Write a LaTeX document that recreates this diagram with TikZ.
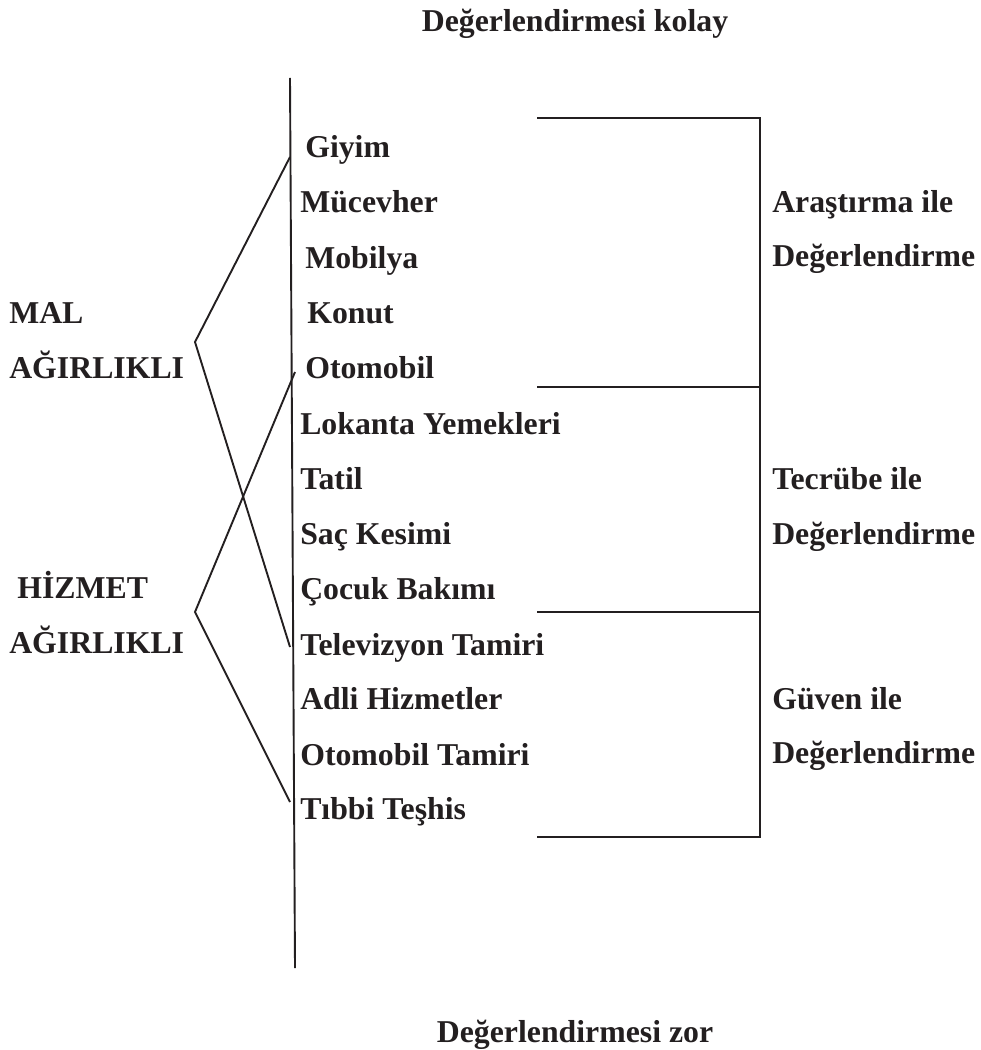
\documentclass[tikz,border=0pt]{standalone}
\usepackage{fontspec}
\setmainfont{Liberation Serif}
\usepackage{xcolor}
\definecolor{cInk}{HTML}{231F20}
\usepackage{tikz}
\usetikzlibrary{positioning,calc}
\tikzset{
  lbl/.style={anchor=base west,inner sep=0pt,text=cInk,
    font=\fontsize{22.6pt}{27pt}\selectfont\bfseries},
  lbl-mid/.style={lbl,anchor=base},
  line/.style={draw=cInk,line width=1.35pt},
}

\begin{document}
\begin{tikzpicture}[x=0.025cm,y=-0.025cm]
  \useasboundingbox (0,0) rectangle (980,1050);
  % eksen ve başlıklar
  \node[lbl-mid] (kolay) at (575,32) {Değerlendirmesi kolay};
  \node[lbl-mid] (zor) at (575,1042) {Değerlendirmesi zor};
  \coordinate (ax-top) at (290,78);
  \coordinate (ax-bot) at (295,968);
  \draw[line] (ax-top) -- (ax-bot);

  % sol gruplar
  \node[lbl] (mal) at (9,323) {MAL};
  \node[lbl] (mal2) at (9,378) {AĞIRLIKLI};
  \node[lbl] (hiz) at (17,598) {HİZMET};
  \node[lbl] (hiz2) at (9,653) {AĞIRLIKLI};
  \coordinate (v-mal) at (195,342);
  \coordinate (v-hiz) at (195,612);

  % ürünler
  \node[lbl] (giyim) at (305,158) {Giyim};
  \node[lbl] (mucevher) at (300,213) {Mücevher};
  \node[lbl] (mobilya) at (305,268) {Mobilya};
  \node[lbl] (konut) at (307,323) {Konut};
  \node[lbl] (otomobil) at (305,378) {Otomobil};
  \node[lbl] (lokanta) at (300,434) {Lokanta Yemekleri};
  \node[lbl] (tatil) at (300,489) {Tatil};
  \node[lbl] (sac) at (300,544) {Saç Kesimi};
  \node[lbl] (cocuk) at (300,599) {Çocuk Bakımı};
  \node[lbl] (tv) at (300,655) {Televizyon Tamiri};
  \node[lbl] (adli) at (300,709) {Adli Hizmetler};
  \node[lbl] (oto-tamir) at (300,765) {Otomobil Tamiri};
  \node[lbl] (tibbi) at (300,819) {Tıbbi Teşhis};

  \coordinate (e-giyim) at (290,157);
  \coordinate (e-tv) at (290,647);
  \coordinate (e-oto) at (295,372);
  \coordinate (e-tibbi) at (290,802);
  \draw[line] (e-giyim) -- (v-mal) -- (e-tv);
  \draw[line] (e-oto) -- (v-hiz) -- (e-tibbi);

  % sağ köşeli ayraç
  \coordinate (b1) at (537,118);
  \coordinate (b2) at (537,387);
  \coordinate (b3) at (537,612);
  \coordinate (b4) at (537,837);
  \coordinate (r1) at (760,118);
  \coordinate (r2) at (760,387);
  \coordinate (r3) at (760,612);
  \coordinate (r4) at (760,837);
  \draw[line] (b1) -- (r1) -- (r4) -- (b4);
  \draw[line] (b2) -- (r2);
  \draw[line] (b3) -- (r3);

  \node[lbl] (arastirma) at (772,212) {Araştırma ile};
  \node[lbl] (deg1) at (772,267) {Değerlendirme};
  \node[lbl] (tecrube) at (772,489) {Tecrübe ile};
  \node[lbl] (deg2) at (772,544) {Değerlendirme};
  \node[lbl] (guven) at (772,709) {Güven ile};
  \node[lbl] (deg3) at (772,763) {Değerlendirme};
\end{tikzpicture}
\end{document}
